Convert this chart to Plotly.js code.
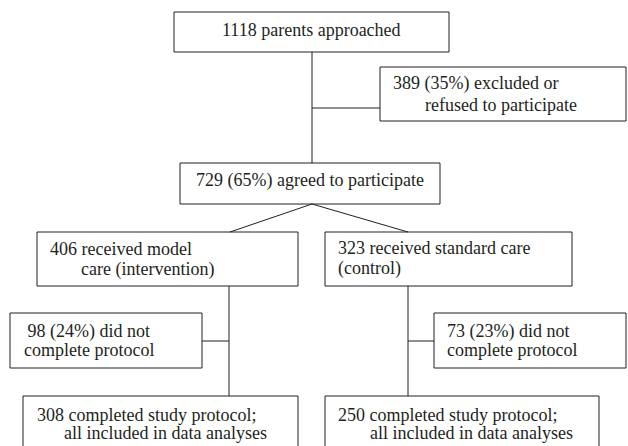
<!DOCTYPE html>
<html>
<head>
<meta charset="utf-8">
<script src="https://cdn.plot.ly/plotly-3.0.1.min.js"></script>
<style>
html,body{margin:0;padding:0;background:#fff;}
#chart text, #chart .annotation-text { font-family: 'Liberation Serif', 'Times New Roman', serif !important; }
</style>
</head>
<body>
<div id="chart"></div>
<script>
// ---- data: text of each flowchart node (one entry per line) ----
const approachedText = ["1118 parents approached"];
const excludedText = ["389 (35%) excluded or", "refused to participate"];
const agreedText = ["729 (65%) agreed to participate"];
const interventionText = ["406 received model", "care (intervention)"];
const controlText = ["323 received standard care", "(control)"];
const dropIntText = [" 98 (24%) did not", "complete protocol"];
const dropCtlText = ["73 (23%) did not", "complete protocol"];
const completedIntText = ["308 completed study protocol;", "all included in data analyses"];
const completedCtlText = ["250 completed study protocol;", "all included in data analyses"];

// ---- layout (pixel positions of boxes and text lines) ----
const ink = "#231f20";
const nodes = [
  {lines: approachedText, box: [174, 12, 449, 52], tx: [311.5], ty: [30], anchor: "center"},
  {lines: excludedText, box: [380, 67, 626, 121], tx: [392, 424], ty: [83, 105], anchor: "left"},
  {lines: agreedText, box: [180, 163, 440, 204], tx: [310], ty: [180], anchor: "center"},
  {lines: interventionText, box: [37, 232, 298, 286], tx: [49, 80], ty: [249, 269], anchor: "left"},
  {lines: controlText, box: [325, 232, 572, 286], tx: [337, 337], ty: [248, 268], anchor: "left"},
  {lines: dropIntText, box: [10, 313, 202, 368], tx: [22, 23], ty: [331, 350], anchor: "left"},
  {lines: dropCtlText, box: [434, 313, 626, 368], tx: [446, 446], ty: [331, 350], anchor: "left"},
  {lines: completedIntText, box: [23, 396, 298, 470], tx: [36, 63], ty: [415, 433], anchor: "left"},
  {lines: completedCtlText, box: [325, 396, 599, 470], tx: [337, 369], ty: [415, 433], anchor: "left"}
];
const connectors = [
  [312, 52, 312, 163],
  [312, 108, 380, 108],
  [312, 204, 230, 232],
  [312, 204, 408, 232],
  [229, 286, 229, 396],
  [202, 341, 229, 341],
  [408, 286, 408, 396],
  [408, 341, 434, 341]
];

const shapes = [];
const annotations = [];
nodes.forEach(n => {
  shapes.push({type: "rect", xref: "x", yref: "y", x0: n.box[0], y0: n.box[1], x1: n.box[2], y1: n.box[3],
    line: {color: ink, width: 1}});
  n.lines.forEach((t, i) => {
    annotations.push({x: n.tx[i], y: n.ty[i], xref: "x", yref: "y", text: t.replace(/^ /, "&nbsp;"),
      showarrow: false, xanchor: n.anchor, yanchor: "middle", borderpad: 0,
      font: {family: "Liberation Serif", size: 18, color: ink}});
  });
});
connectors.forEach(c => {
  shapes.push({type: "line", xref: "x", yref: "y", x0: c[0], y0: c[1], x1: c[2], y1: c[3],
    line: {color: ink, width: 1}});
});

Plotly.newPlot("chart", [], {
  width: 628, height: 446,
  margin: {l: 0, r: 0, t: 0, b: 0},
  showlegend: false,
  font: {family: "Liberation Serif"},
  xaxis: {range: [0, 628], visible: false},
  yaxis: {range: [446, 0], visible: false},
  shapes: shapes,
  annotations: annotations
}, {displayModeBar: false});
</script>
</body>
</html>
